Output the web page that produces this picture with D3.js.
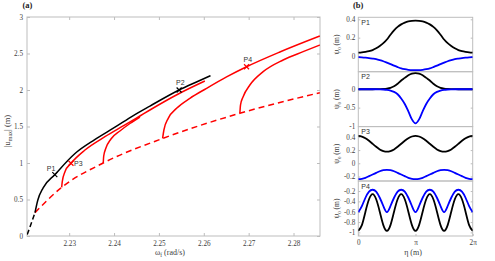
<!DOCTYPE html>
<html>
<head>
<meta charset="utf-8">
<script src="https://cdn.jsdelivr.net/npm/d3@7"></script>
<style>
  body { margin: 0; background: #fff; }
  svg { display: block; }
</style>
</head>
<body>
<svg width="495" height="261"></svg>
<script>
// ---- panel (a) data: frequency response branches ----
var omegaTicks = [2.23, 2.24, 2.25, 2.26, 2.27, 2.28];
var uTicks = [0, 0.5, 1, 1.5, 2, 2.5, 3];

// black dashed (unstable start of the backbone)
var blackDashW = [2.22065, 2.2215, 2.22238];
var blackDashU = [0.02, 0.164, 0.32];
// black solid
var blackW = [2.22238, 2.2230, 2.2242, 2.2268, 2.2313, 2.2357, 2.2402, 2.2443, 2.2480, 2.2545, 2.2580, 2.2615];
var blackU = [0.32, 0.49, 0.66, 0.84, 1.13, 1.32, 1.49, 1.65, 1.78, 2.0, 2.10, 2.196];
// red dashed
var redDashW = [2.22238, 2.22833, 2.23759, 2.25082, 2.26804, 2.28586];
var redDashU = [0.32, 0.667, 1.0, 1.336, 1.681, 1.963];
// red solid branches
var red1W = [2.22833, 2.22846, 2.22906, 2.2304, 2.23352, 2.23797, 2.24243, 2.24577, 2.24799, 2.25452, 2.26024];
var red1U = [0.667, 0.744, 0.881, 0.996, 1.178, 1.36, 1.521, 1.644, 1.726, 1.952, 2.123];
var red2W = [2.23759, 2.2377, 2.23819, 2.23931, 2.24131, 2.24354, 2.24577];
var red2U = [1.0, 1.096, 1.205, 1.329, 1.438, 1.541, 1.63];
var red3W = [2.25082, 2.25111, 2.25207, 2.25394, 2.2569, 2.26062, 2.26508, 2.26953, 2.27695, 2.28586];
var red3U = [1.336, 1.452, 1.612, 1.749, 1.886, 2.023, 2.18, 2.319, 2.521, 2.74];
var red4W = [2.26804, 2.26819, 2.26877, 2.27027, 2.27323, 2.27768, 2.28214, 2.28586];
var red4U = [1.681, 1.795, 1.908, 2.068, 2.251, 2.411, 2.525, 2.616];

// marked points
var markNames = ["P1", "P2", "P3", "P4"];
var markW = [2.2268, 2.2545, 2.2304, 2.26953];
var markU = [0.84, 2.0, 0.996, 2.319];
var markColor = ["#000", "#000", "#f00", "#f00"];

// ---- panel (b) data: profiles psi_0 over eta (0..2pi, step pi/16) ----
var etaTicks = [0, Math.PI, 2 * Math.PI];
var etaTickLabels = ["0", "\u03c0", "2\u03c0"];
var eta = d3.range(33).map(function(k) { return k * Math.PI / 16; });

var p1Black = [0.036, 0.039, 0.045, 0.053, 0.065, 0.085, 0.11, 0.14, 0.18, 0.232, 0.28, 0.318, 0.345, 0.364, 0.377, 0.383, 0.385,
               0.383, 0.377, 0.364, 0.345, 0.318, 0.28, 0.232, 0.18, 0.14, 0.11, 0.085, 0.065, 0.053, 0.045, 0.039, 0.036];
var p1Blue = [-0.013, -0.015, -0.018, -0.022, -0.028, -0.035, -0.045, -0.057, -0.072, -0.088, -0.105, -0.121, -0.135, -0.144, -0.15, -0.154, -0.155,
              -0.154, -0.15, -0.144, -0.135, -0.121, -0.105, -0.088, -0.072, -0.057, -0.045, -0.035, -0.028, -0.022, -0.018, -0.015, -0.013];
var p2Black = [0, 0, 0, 0, 0, 0.002, 0.005, 0.01, 0.02, 0.04, 0.08, 0.15, 0.24, 0.31, 0.38, 0.425, 0.44,
               0.425, 0.38, 0.31, 0.24, 0.15, 0.08, 0.04, 0.02, 0.01, 0.005, 0.002, 0, 0, 0, 0, 0];
var p2Blue = [0, 0, 0, 0, 0, 0, -0.002, -0.006, -0.015, -0.035, -0.07, -0.135, -0.25, -0.4, -0.6, -0.82, -0.93,
              -0.82, -0.6, -0.4, -0.25, -0.135, -0.07, -0.035, -0.015, -0.006, -0.002, 0, 0, 0, 0, 0, 0];
var p3Black = [0.415, 0.405, 0.38, 0.34, 0.295, 0.25, 0.21, 0.185, 0.175, 0.185, 0.21, 0.25, 0.295, 0.34, 0.38, 0.405, 0.415,
               0.405, 0.38, 0.34, 0.295, 0.25, 0.21, 0.185, 0.175, 0.185, 0.21, 0.25, 0.295, 0.34, 0.38, 0.405, 0.415];
var p3Blue = [-0.24, -0.235, -0.22, -0.195, -0.17, -0.145, -0.12, -0.105, -0.1, -0.105, -0.12, -0.145, -0.17, -0.195, -0.22, -0.235, -0.24,
              -0.235, -0.22, -0.195, -0.17, -0.145, -0.12, -0.105, -0.1, -0.105, -0.12, -0.145, -0.17, -0.195, -0.22, -0.235, -0.24];
var p4Black = [-0.97, -0.86, -0.6, -0.36, -0.26, -0.36, -0.6, -0.86, -0.97, -0.86, -0.6, -0.36, -0.26, -0.36, -0.6, -0.86, -0.97,
               -0.86, -0.6, -0.36, -0.26, -0.36, -0.6, -0.86, -0.97, -0.86, -0.6, -0.36, -0.26, -0.36, -0.6, -0.86, -0.97];
var p4Blue = [-0.61, -0.49, -0.33, -0.21, -0.175, -0.21, -0.33, -0.49, -0.61, -0.49, -0.33, -0.21, -0.175, -0.21, -0.33, -0.49, -0.61,
              -0.49, -0.33, -0.21, -0.175, -0.21, -0.33, -0.49, -0.61, -0.49, -0.33, -0.21, -0.175, -0.21, -0.33, -0.49, -0.61];

var subNames = ["P1", "P2", "P3", "P4"];
var subDomains = [[-0.171, 0.422], [-1.016, 0.478], [-0.268, 0.555], [-1.07, -0.006]];
var subTicks = [[0, 0.2, 0.4], [-1, -0.5, 0], [-0.2, 0, 0.2, 0.4], [-1, -0.8, -0.6, -0.4, -0.2]];
var subBlack = [p1Black, p2Black, p3Black, p4Black];
var subBlue = [p1Blue, p2Blue, p3Blue, p4Blue];
var subCurves = [d3.curveMonotoneX, d3.curveMonotoneX, d3.curveNatural, d3.curveNatural];

// ---- drawing ----
var svg = d3.select("svg");
var serif = '"Liberation Serif", "Times New Roman", serif';
var sans = '"Liberation Sans", Arial, sans-serif';
var axisCol = "#bdbdbd", textCol = "#404040";

function styleAxis(g) {
  g.select(".domain").remove();
  g.selectAll(".tick line").attr("stroke", axisCol);
  g.selectAll(".tick text").attr("font-family", serif).attr("font-size", 7.2).attr("fill", textCol);
}

// panel (a)
var A = {l: 27, r: 320, t: 17, b: 236};
var x = d3.scaleLinear().domain([2.2206, 2.2859]).range([A.l, A.r]);
var y = d3.scaleLinear().domain([0, 3]).range([A.b, A.t]);
var ga = svg.append("g");

ga.append("rect").attr("x", A.l).attr("y", A.t).attr("width", A.r - A.l).attr("height", A.b - A.t)
  .attr("fill", "none").attr("stroke", axisCol).attr("stroke-width", 1);

ga.append("g").attr("transform", "translate(0," + A.b + ")")
  .call(d3.axisBottom(x).tickValues(omegaTicks).tickFormat(function(d) { return d.toFixed(2); })
    .tickSizeInner(-3).tickSizeOuter(0).tickPadding(5)).call(styleAxis);
ga.append("g").attr("transform", "translate(0," + A.t + ")")
  .call(d3.axisTop(x).tickValues(omegaTicks).tickFormat("").tickSizeInner(-3).tickSizeOuter(0)).call(styleAxis);
ga.append("g").attr("transform", "translate(" + A.l + ",0)")
  .call(d3.axisLeft(y).tickValues(uTicks).tickFormat(function(d) { return String(d); })
    .tickSizeInner(-3).tickSizeOuter(0).tickPadding(4)).call(styleAxis);
ga.append("g").attr("transform", "translate(" + A.r + ",0)")
  .call(d3.axisRight(y).tickValues(uTicks).tickFormat("").tickSizeInner(-3).tickSizeOuter(0)).call(styleAxis);

svg.append("clipPath").attr("id", "clipA").append("rect")
  .attr("x", A.l).attr("y", A.t).attr("width", A.r - A.l).attr("height", A.b - A.t);
var plotA = ga.append("g").attr("clip-path", "url(#clipA)");

var lineA = d3.line().x(function(d) { return x(d[0]); }).y(function(d) { return y(d[1]); }).curve(d3.curveMonotoneX);
function branch(w, u, color, dash) {
  plotA.append("path").datum(d3.zip(w, u)).attr("d", lineA)
    .attr("fill", "none").attr("stroke", color).attr("stroke-width", 1.5)
    .attr("stroke-dasharray", dash || null);
}
branch(redDashW, redDashU, "#f00", "6,4");
branch(red1W, red1U, "#f00");
branch(red2W, red2U, "#f00");
branch(red3W, red3U, "#f00");
branch(red4W, red4U, "#f00");
branch(blackDashW, blackDashU, "#000", "5,3");
branch(blackW, blackU, "#000");

var labelOffsets = [[-8, -4], [-3, -5], [3, 3], [-3, -5]];
markNames.forEach(function(n, i) {
  var px = x(markW[i]), py = y(markU[i]);
  ga.append("path").attr("d", "M" + (px - 2.5) + "," + (py - 2.5) + "L" + (px + 2.5) + "," + (py + 2.5) +
      "M" + (px - 2.5) + "," + (py + 2.5) + "L" + (px + 2.5) + "," + (py - 2.5))
    .attr("stroke", markColor[i]).attr("stroke-width", 1.2);
  ga.append("text").attr("x", px + labelOffsets[i][0]).attr("y", py + labelOffsets[i][1])
    .attr("font-family", sans).attr("font-size", 7).attr("fill", "#333").text(n);
});

ga.append("text").attr("x", 22.5).attr("y", 8).attr("font-family", serif).attr("font-weight", "bold")
  .attr("font-size", 8.5).attr("fill", "#222").text("(a)");

var xl = ga.append("text").attr("x", 170).attr("y", 255).attr("text-anchor", "middle")
  .attr("font-family", serif).attr("font-size", 8).attr("fill", textCol);
xl.append("tspan").text("\u03c9");
xl.append("tspan").attr("font-size", 5.5).attr("dy", 2).text("f");
xl.append("tspan").attr("dy", -2).text(" (rad/s)");

var yl = ga.append("text").attr("transform", "translate(10,131) rotate(-90)").attr("text-anchor", "middle")
  .attr("font-family", serif).attr("font-size", 8.5).attr("fill", textCol);
yl.append("tspan").text("|u");
yl.append("tspan").attr("font-size", 6).attr("dy", 2).text("max");
yl.append("tspan").attr("dy", -2).text("| (m)");

// panel (b)
var B = {l: 358.3, r: 472.7};
var subTops = [17.3, 71.7, 126.6, 181, 236];
var xb = d3.scaleLinear().domain([0, 2 * Math.PI]).range([B.l, B.r]);
var gb = svg.append("g");

subNames.forEach(function(name, i) {
  var top = subTops[i], bot = subTops[i + 1];
  var yb = d3.scaleLinear().domain(subDomains[i]).range([bot, top]);
  var g = gb.append("g");
  g.append("rect").attr("x", B.l).attr("y", top).attr("width", B.r - B.l).attr("height", bot - top)
    .attr("fill", "none").attr("stroke", axisCol).attr("stroke-width", 1);
  g.append("g").attr("transform", "translate(" + B.l + ",0)")
    .call(d3.axisLeft(yb).tickValues(subTicks[i]).tickFormat(function(d) { return String(d); })
      .tickSizeInner(-2).tickSizeOuter(0).tickPadding(3)).call(styleAxis);
  g.append("g").attr("transform", "translate(" + B.r + ",0)")
    .call(d3.axisRight(yb).tickValues(subTicks[i]).tickFormat("").tickSizeInner(-2).tickSizeOuter(0)).call(styleAxis);

  var clipId = "clipB" + i;
  svg.append("clipPath").attr("id", clipId).append("rect")
    .attr("x", B.l).attr("y", top).attr("width", B.r - B.l).attr("height", bot - top);
  var pg = g.append("g").attr("clip-path", "url(#" + clipId + ")");
  var lineB = d3.line().x(function(d) { return xb(d[0]); }).y(function(d) { return yb(d[1]); }).curve(subCurves[i]);
  pg.append("path").datum(d3.zip(eta, subBlack[i])).attr("d", lineB)
    .attr("fill", "none").attr("stroke", "#000").attr("stroke-width", 1.8);
  pg.append("path").datum(d3.zip(eta, subBlue[i])).attr("d", lineB)
    .attr("fill", "none").attr("stroke", "#00f").attr("stroke-width", 1.8);

  g.append("text").attr("x", B.l + 3).attr("y", top + 7.5).attr("font-family", sans)
    .attr("font-size", 7).attr("fill", "#333").text(name);

  var yt = g.append("text").attr("transform", "translate(339," + ((top + bot) / 2) + ") rotate(-90)")
    .attr("text-anchor", "middle").attr("font-family", serif).attr("font-size", 7.5).attr("fill", textCol);
  yt.append("tspan").text("\u03c8");
  yt.append("tspan").attr("font-size", 5).attr("dy", 2).text("0");
  yt.append("tspan").attr("dy", -2).text(" (m)");
});

gb.append("g").attr("transform", "translate(0," + subTops[4] + ")")
  .call(d3.axisBottom(xb).tickValues(etaTicks).tickFormat(function(d, i) { return etaTickLabels[i]; })
    .tickSizeInner(-2).tickSizeOuter(0).tickPadding(4)).call(styleAxis);

gb.append("text").attr("x", 353).attr("y", 8).attr("font-family", serif).attr("font-weight", "bold")
  .attr("font-size", 8.5).attr("fill", "#222").text("(b)");
gb.append("text").attr("x", 413).attr("y", 254.5).attr("text-anchor", "middle")
  .attr("font-family", serif).attr("font-size", 8).attr("fill", textCol).text("\u03b7 (m)");
</script>
</body>
</html>
